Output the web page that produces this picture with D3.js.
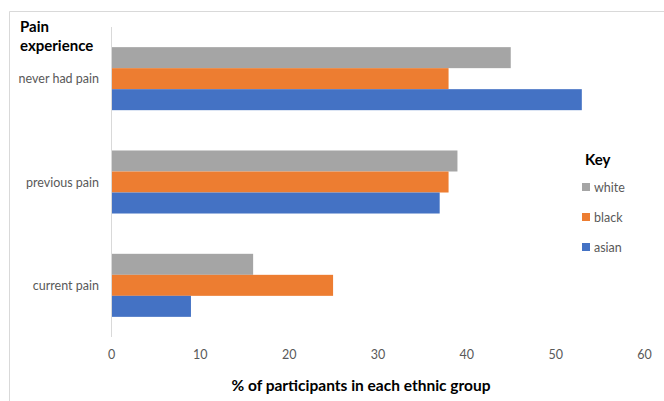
<!DOCTYPE html>
<html><head><meta charset="utf-8">
<script src="https://cdn.jsdelivr.net/npm/d3@7"></script>
<style>body{margin:0;background:#fff}svg{display:block}text{font-family:Lato,"Open Sans",sans-serif}</style>
</head><body>
<script>
const categories = ["never had pain", "previous pain", "current pain"];
const seriesNames = ["white", "black", "asian"];
const white = [45, 39, 16];
const black = [38, 38, 25];
const asian = [53, 37, 9];
const xTicks = [0, 10, 20, 30, 40, 50, 60];
const colors = ["#A5A5A5", "#ED7D31", "#4472C4"];
const seriesValues = [white, black, asian];

const W = 664, H = 401;
const svg = d3.select("body").append("svg").attr("width", W).attr("height", H);

// frame (top & left visible)
svg.append("line").attr("x1", 9.5).attr("x2", W).attr("y1", 11.5).attr("y2", 11.5).attr("stroke", "#d9d9d9");
svg.append("line").attr("x1", 9.5).attr("x2", 9.5).attr("y1", 11.5).attr("y2", H).attr("stroke", "#d9d9d9");

const x = d3.scaleLinear().domain([0, 60]).range([111, 644]);
const y = d3.scaleBand().domain(categories).range([27, 337]).paddingInner(0.39).paddingOuter(0.195);
const ys = d3.scaleBand().domain(seriesNames).range([0, y.bandwidth()]);

const g = svg.append("g");
categories.forEach((c, i) => {
  seriesNames.forEach((s, j) => {
    g.append("rect")
      .attr("x", x(0))
      .attr("y", y(c) + ys(s))
      .attr("width", x(seriesValues[j][i]) - x(0))
      .attr("height", ys.bandwidth())
      .attr("fill", colors[j]);
  });
});

// vertical axis line
svg.append("line").attr("x1", x(0) + 0.5).attr("x2", x(0) + 0.5).attr("y1", 27).attr("y2", 337).attr("stroke", "#d9d9d9");

// category labels
svg.selectAll(".cat").data(categories).enter().append("text")
  .attr("x", 99).attr("y", d => y(d) + y.bandwidth() / 2)
  .attr("text-anchor", "end").attr("dominant-baseline", "central")
  .attr("font-size", 12.5).attr("fill", "#595959").text(d => d);

// x ticks
const xa = svg.append("g").attr("transform", "translate(0,355)")
  .call(d3.axisBottom(x).tickValues(xTicks).tickSize(0).tickPadding(0));
xa.select(".domain").remove();
xa.selectAll("text").attr("font-size", 12.5).attr("fill", "#595959").attr("dy", "0.32em")
  .style("font-family", "Lato, 'Open Sans', sans-serif");

// titles
svg.append("text").attr("x", 20).attr("y", 32).attr("font-size", 15).attr("font-weight", "bold").attr("fill", "#000").text("Pain");
svg.append("text").attr("x", 20).attr("y", 51).attr("font-size", 15).attr("font-weight", "bold").attr("fill", "#000").text("experience");
svg.append("text").attr("x", 361).attr("y", 391).attr("text-anchor", "middle").attr("font-size", 15.5).attr("font-weight", "bold").attr("fill", "#000").text("% of participants in each ethnic group");

// legend
svg.append("text").attr("x", 585).attr("y", 165).attr("font-size", 15).attr("font-weight", "bold").attr("fill", "#000").text("Key");
const leg = svg.selectAll(".leg").data(seriesNames).enter().append("g")
  .attr("transform", (d, i) => `translate(582,${187 + i * 30})`);
leg.append("rect").attr("x", 0).attr("y", -4).attr("width", 8).attr("height", 8).attr("fill", (d, i) => colors[i]);
leg.append("text").attr("x", 12).attr("y", 0).attr("dominant-baseline", "central").attr("font-size", 12.5).attr("fill", "#595959").text(d => d);
</script>
</body></html>
